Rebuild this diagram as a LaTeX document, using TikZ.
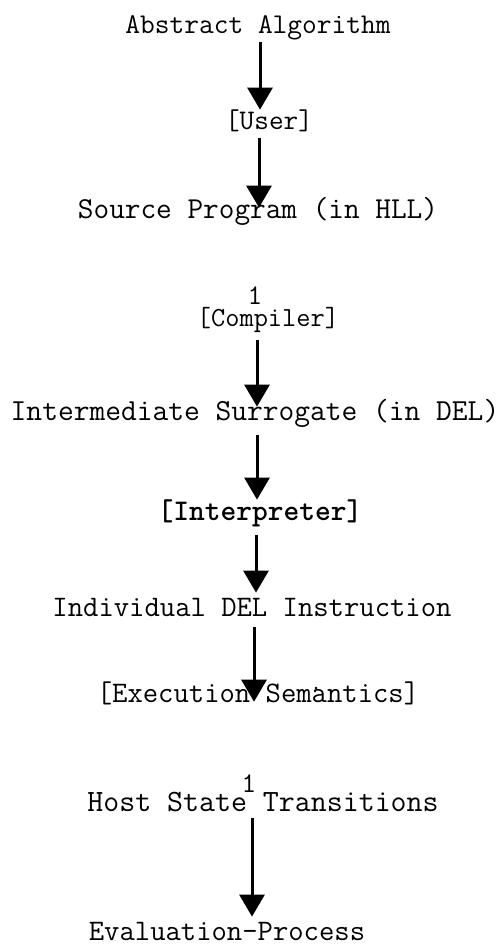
\documentclass[tikz,border=0pt]{standalone}
\usepackage{fontspec}
\usetikzlibrary{arrows.meta}
\begin{document}
\begin{tikzpicture}[x=0.5pt,y=-0.5pt,
  lbl/.style={font=\ttfamily\fontsize{#1}{#1}\selectfont, inner sep=0pt, text height=10pt, text depth=3pt, anchor=base},
  lbl/.default=14.8,
  mark1/.style={font=\ttfamily\fontsize{14.2}{14.2}\selectfont, inner sep=0pt, anchor=base},
  arr/.style={line width=1.5pt, -{Triangle[width=12.5pt,length=11pt]}}]
\useasboundingbox (0,0) rectangle (504,944);
% nodes (placed at their baselines)
\node[lbl=14.3] (abs) at (258,33) {Abstract Algorithm};
\node[lbl=14.2] (usr) at (269,129) {[User]};
\node[lbl=15.2] (src) at (258,218) {Source Program (in HLL)};
\node[mark1] (one1) at (255,304) {1};
\node[lbl=13.8] (cmp) at (268,326) {[Compiler]};
\node[lbl=15.3] (ims) at (255,420) {Intermediate Surrogate (in DEL)};
\node[lbl=15.0, font=\ttfamily\bfseries\fontsize{15}{15}\selectfont] (itp) at (260,520) {[Interpreter]};
\node[lbl=14.9] (idi) at (252,616) {Individual DEL Instruction};
\node[lbl=14.9] (exs) at (258,702.7) {[Execution Semantics]};
\node[mark1] (one2) at (249,792) {1};
\node[lbl=15.5] (hst) at (263,811) {Host State Transitions};
\node[lbl=14.9] (evp) at (227,940) {Evaluation-Process};
% small speck near "Semantics"
\fill (316,688) circle (1.3);
% arrow columns
\coordinate (c1) at (260,0);
\coordinate (c2) at (259,0);
\coordinate (c3) at (257,0);
\coordinate (c4) at (257,0);
\coordinate (c5) at (256,0);
\coordinate (c6) at (254,0);
\coordinate (c7) at (252,0);
% connectors
\draw[arr, shorten <=1.5pt, shorten >=-0.5pt] (abs.south -| c1) -- (usr.north -| c1);
\draw[arr, shorten <=1.5pt, shorten >=-5pt] (usr.south -| c2) -- (src.north -| c2);
\draw[arr, shorten <=4pt, shorten >=-3.5pt] (cmp.south -| c3) -- (ims.north -| c3);
\draw[arr, shorten <=4.5pt, shorten >=0pt] (ims.south -| c4) -- (itp.north -| c4);
\draw[arr, shorten <=4.5pt, shorten >=1.5pt] (itp.south -| c5) -- (idi.north -| c5);
\draw[arr, shorten <=2.5pt, shorten >=-9.7pt] (idi.south -| c6) -- (exs.north -| c6);
\draw[arr, shorten <=0.5pt, shorten >=1.5pt] (hst.south -| c7) -- (evp.north -| c7);
\end{tikzpicture}
\end{document}
